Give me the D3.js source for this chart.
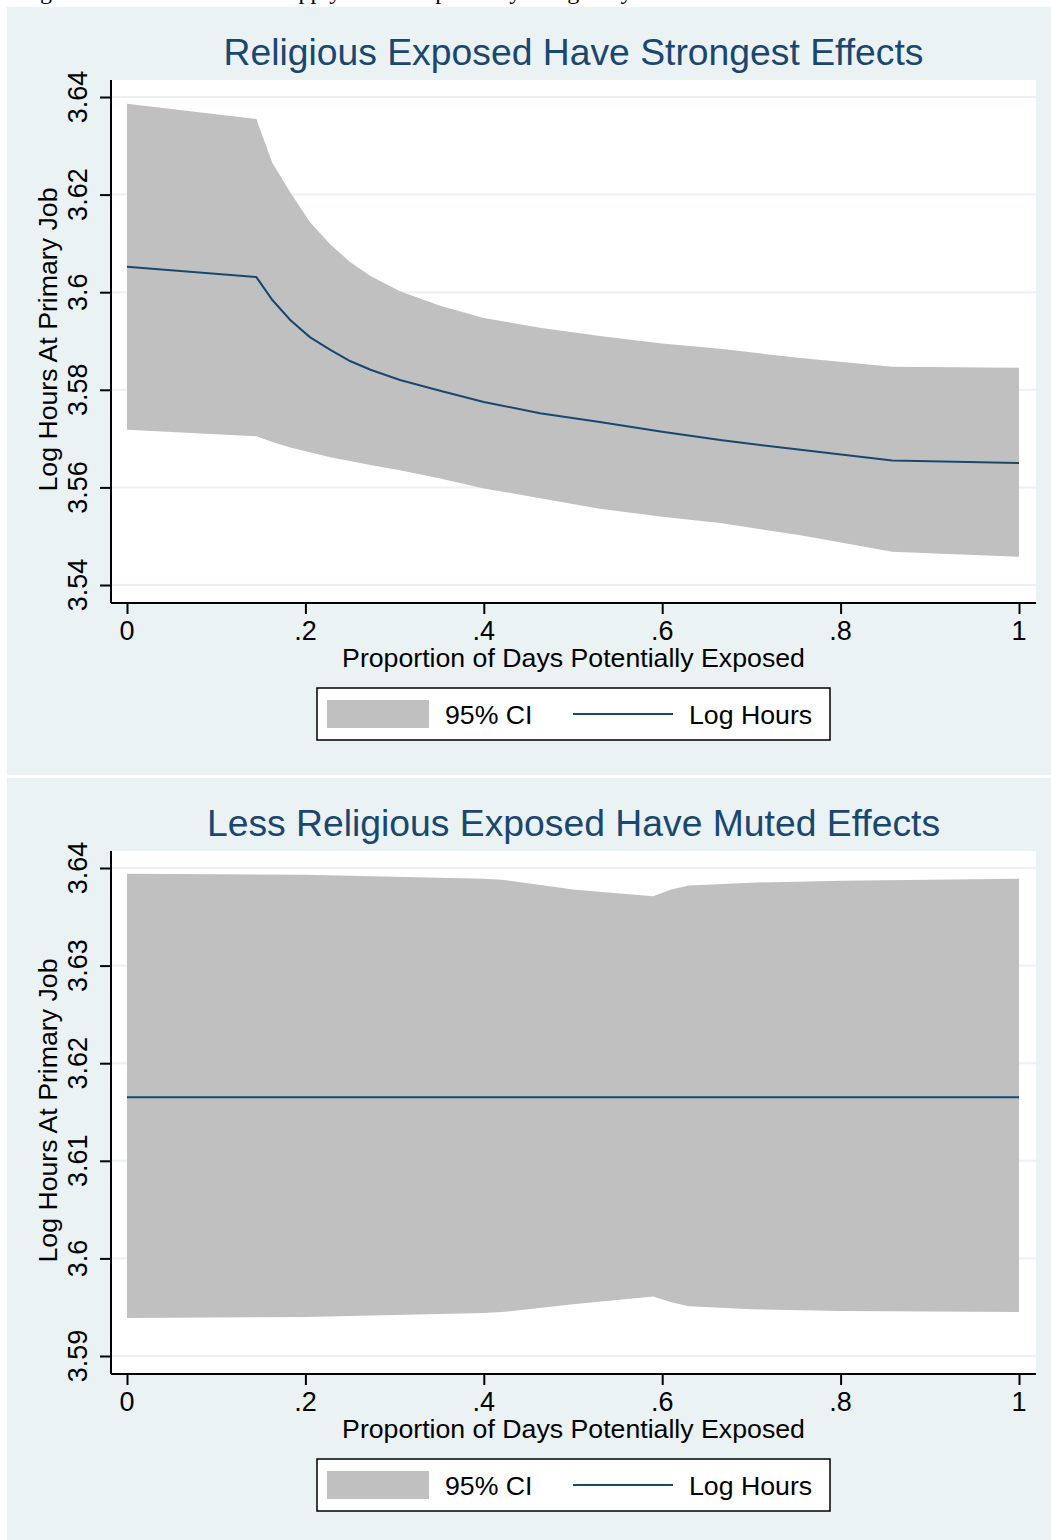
<!DOCTYPE html>
<html>
<head>
<meta charset="utf-8">
<script src="https://cdn.jsdelivr.net/npm/d3@7"></script>
<style>
  html, body { margin: 0; padding: 0; background: #ffffff; }
  svg { display: block; }
</style>
</head>
<body>
<svg id="chart" width="1051" height="1540"></svg>
<script>
// ---------- DATA ----------
const captionText = "Figure 4: Predicted Labor Supply of the Exposed by Religiosity";

// Panel 1: Religious
const title1 = "Religious Exposed Have Strongest Effects";
const x1 = [0, 0.145, 0.163, 0.183, 0.205, 0.228, 0.25, 0.273, 0.306, 0.351, 0.40, 0.463, 0.53, 0.60, 0.665, 0.755, 0.858, 1];
const upper1 = [3.6386, 3.6355, 3.6265, 3.6205, 3.6144, 3.6098, 3.6062, 3.6033, 3.6002, 3.5972, 3.5947, 3.5927, 3.5910, 3.5895, 3.5884, 3.5865, 3.5847, 3.5845];
const mean1  = [3.6052, 3.6031, 3.5984, 3.5943, 3.5908, 3.5882, 3.5859, 3.5841, 3.5820, 3.5798, 3.5775, 3.5752, 3.5734, 3.5714, 3.5697, 3.5677, 3.5655, 3.5650];
const lower1 = [3.5718, 3.5705, 3.5693, 3.5682, 3.5672, 3.5662, 3.5654, 3.5646, 3.5635, 3.5618, 3.5598, 3.5578, 3.5556, 3.5540, 3.5527, 3.5502, 3.5468, 3.5458];
const yTicks1 = [3.54, 3.56, 3.58, 3.60, 3.62, 3.64];

// Panel 2: Less religious
const title2 = "Less Religious Exposed Have Muted Effects";
const x2 = [0, 0.2, 0.4, 0.42, 0.5, 0.59, 0.61, 0.63, 0.7, 0.8, 1];
const upper2 = [3.6394, 3.6393, 3.6389, 3.6388, 3.6378, 3.6371, 3.6378, 3.6382, 3.6385, 3.6387, 3.6389];
const mean2  = [3.6165, 3.6165, 3.6165, 3.6165, 3.6165, 3.6165, 3.6165, 3.6165, 3.6165, 3.6165, 3.6165];
const lower2 = [3.5939, 3.5940, 3.5944, 3.5945, 3.5953, 3.5961, 3.5955, 3.5951, 3.5948, 3.5946, 3.5945];
const yTicks2 = [3.59, 3.60, 3.61, 3.62, 3.63, 3.64];

const xTicks = [0, 0.2, 0.4, 0.6, 0.8, 1];
const xTitle = "Proportion of Days Potentially Exposed";
const yTitle = "Log Hours At Primary Job";
const legendLabels = ["95% CI", "Log Hours"];

// ---------- STYLE ----------
const BG = "#eaf2f3";
const BAND = "#c0c0c0";
const LINE = "#1a476f";
const FONT = "'Liberation Sans', Arial, sans-serif";

const svg = d3.select("#chart");

// caption cut off at the very top (as in the reference)
svg.append("text")
  .attr("x", 20).attr("y", -1)
  .attr("font-family", "'Liberation Serif', 'Times New Roman', serif")
  .attr("font-size", 24)
  .attr("fill", "#000")
  .text(captionText);

function fmtY(v) { return d3.format("~g")(+v.toFixed(2)); }
function fmtX(v) { return v === 0 ? "0" : v === 1 ? "1" : d3.format(".1f")(v).replace(/^0/, ""); }

function drawPanel(off, panelBottom, title, xs, up, mid, lo, yTicks) {
  const g = svg.append("g").attr("transform", `translate(0,${off})`);

  g.append("rect").attr("x", 7).attr("y", 7).attr("width", 1044).attr("height", panelBottom - off - 7)
    .attr("fill", BG);

  const plotL = 111, plotR = 1036, plotT = 80, plotB = 603;
  g.append("rect").attr("x", plotL).attr("y", plotT).attr("width", plotR - plotL).attr("height", plotB - plotT)
    .attr("fill", "#ffffff");

  const x = d3.scaleLinear().domain([0, 1]).range([127, 1019]);
  const y = d3.scaleLinear().domain([yTicks[0], yTicks[yTicks.length - 1]]).range([585, 97]);

  g.append("g").selectAll("line").data(yTicks).join("line")
    .attr("x1", plotL).attr("x2", plotR)
    .attr("y1", d => y(d)).attr("y2", d => y(d))
    .attr("stroke", BG).attr("stroke-width", 2);

  const pts = xs.map((v, i) => ({ x: v, u: up[i], m: mid[i], l: lo[i] }));

  g.append("path").datum(pts)
    .attr("d", d3.area().x(d => x(d.x)).y0(d => y(d.l)).y1(d => y(d.u)))
    .attr("fill", BAND);

  g.append("path").datum(pts)
    .attr("d", d3.line().x(d => x(d.x)).y(d => y(d.m)))
    .attr("fill", "none").attr("stroke", LINE).attr("stroke-width", 2);

  const yAxis = g.append("g").attr("transform", `translate(${plotL},0)`)
    .call(d3.axisLeft(y).tickValues(yTicks).tickSize(11).tickFormat(""));
  yAxis.select(".domain").attr("d", `M0,${plotT}V${plotB}`).attr("stroke", "#000").attr("stroke-width", 2);
  yAxis.selectAll(".tick line").attr("stroke", "#000").attr("stroke-width", 2);
  g.append("g").selectAll("text").data(yTicks).join("text")
    .attr("transform", d => `translate(87,${y(d)}) rotate(-90)`)
    .attr("text-anchor", "middle")
    .attr("font-family", FONT).attr("font-size", 27).attr("fill", "#000")
    .text(fmtY);

  const xAxis = g.append("g").attr("transform", `translate(0,${plotB})`)
    .call(d3.axisBottom(x).tickValues(xTicks).tickSize(11).tickFormat(""));
  xAxis.select(".domain").attr("d", `M${plotL},0H${plotR}`).attr("stroke", "#000").attr("stroke-width", 2);
  xAxis.selectAll(".tick line").attr("stroke", "#000").attr("stroke-width", 2);
  g.append("g").selectAll("text").data(xTicks).join("text")
    .attr("x", d => x(d)).attr("y", 640)
    .attr("text-anchor", "middle")
    .attr("font-family", FONT).attr("font-size", 27).attr("fill", "#000")
    .text(fmtX);

  g.append("text").attr("x", (plotL + plotR) / 2).attr("y", 667)
    .attr("text-anchor", "middle").attr("font-family", FONT).attr("font-size", 26.7).attr("fill", "#000")
    .text(xTitle);
  g.append("text").attr("transform", `translate(57,${(186 + 493) / 2}) rotate(-90)`)
    .attr("text-anchor", "middle").attr("font-family", FONT).attr("font-size", 26.7).attr("fill", "#000")
    .text(yTitle);

  g.append("text").attr("x", (plotL + plotR) / 2).attr("y", 65)
    .attr("text-anchor", "middle").attr("font-family", FONT).attr("font-size", 37.3).attr("fill", LINE)
    .text(title);

  const lg = g.append("g");
  lg.append("rect").attr("x", 317).attr("y", 688).attr("width", 513).attr("height", 52)
    .attr("fill", "#ffffff").attr("stroke", "#000").attr("stroke-width", 1.5);
  lg.append("rect").attr("x", 327).attr("y", 700).attr("width", 102).attr("height", 28).attr("fill", BAND);
  lg.append("text").attr("x", 445).attr("y", 724).attr("font-family", FONT).attr("font-size", 26.7).attr("fill", "#000")
    .text(legendLabels[0]);
  lg.append("line").attr("x1", 573).attr("x2", 673).attr("y1", 714).attr("y2", 714)
    .attr("stroke", LINE).attr("stroke-width", 2);
  lg.append("text").attr("x", 689).attr("y", 724).attr("font-family", FONT).attr("font-size", 26.7).attr("fill", "#000")
    .text(legendLabels[1]);
}

drawPanel(0, 775, title1, x1, upper1, mean1, lower1, yTicks1);
drawPanel(771, 1540, title2, x2, upper2, mean2, lower2, yTicks2);
</script>
</body>
</html>
